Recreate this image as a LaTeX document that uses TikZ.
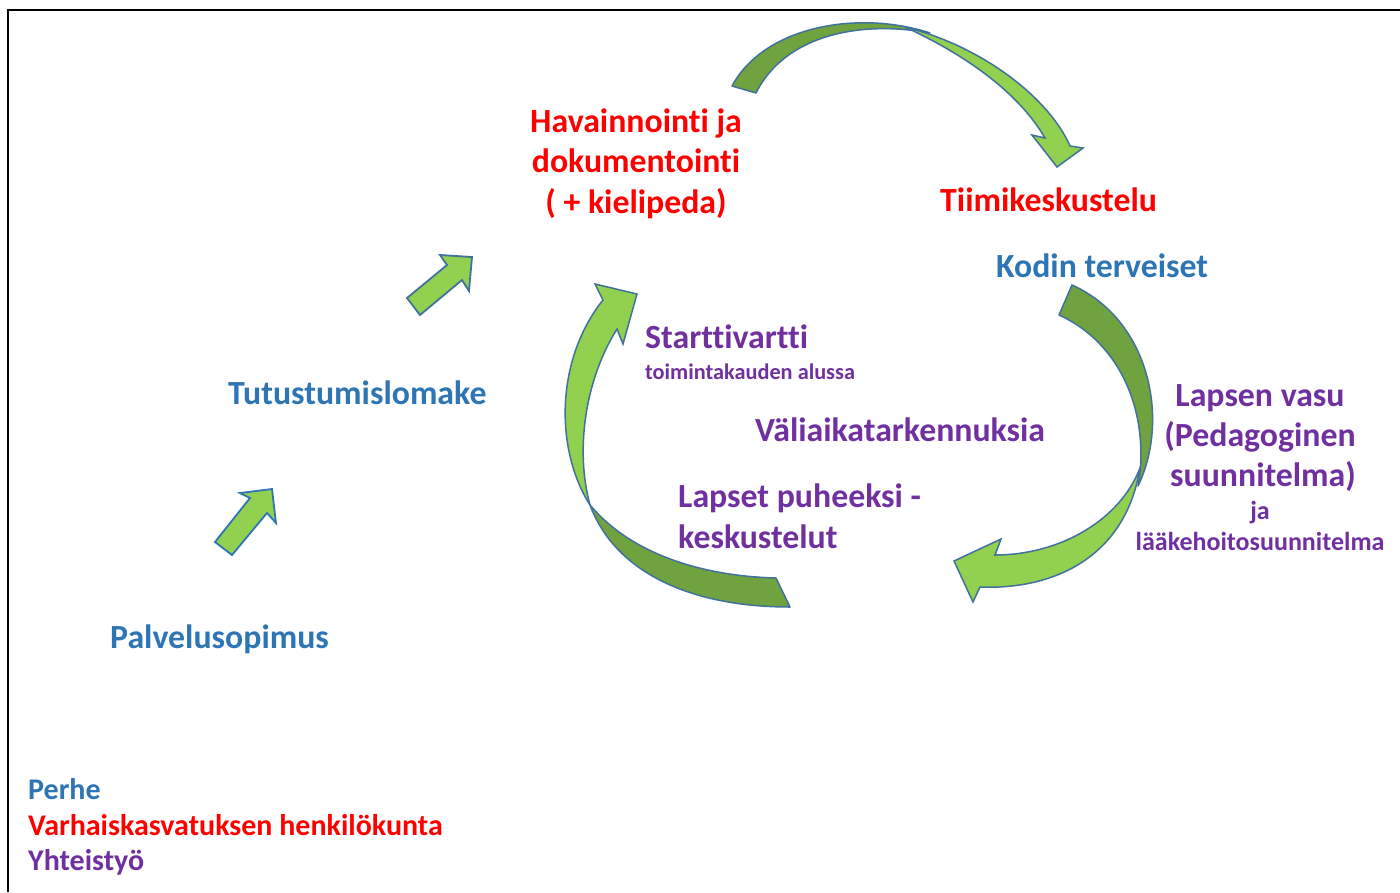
\documentclass[tikz,border=0pt]{standalone}
\usepackage{fontspec}
\setmainfont{Carlito}[Ligatures=NoCommon]
\definecolor{cred}{HTML}{FF0000}
\definecolor{cblue}{HTML}{2E75B6}
\definecolor{cpurp}{HTML}{7030A0}
\definecolor{gdark}{HTML}{70A33F}
\definecolor{glight}{HTML}{92D050}
\definecolor{gline}{HTML}{41719C}
\begin{document}
\begin{tikzpicture}[x=1pt,y=-1pt,
  big/.style={font=\bfseries\fontsize{33.8}{40}\selectfont, inner sep=0pt},
  mid/.style={font=\bfseries\fontsize{30}{35}\selectfont, inner sep=0pt},
  small/.style={font=\bfseries\fontsize{26}{30}\selectfont, inner sep=0pt},
  tiny/.style={font=\bfseries\fontsize{22.3}{26}\selectfont, inner sep=0pt},
  back/.style={fill=gdark, draw=gline, line width=1.5pt, line join=round},
  front/.style={fill=glight, draw=gline, line width=1.5pt, line join=miter},
  blockarrow/.style={fill=glight, line width=1.8pt, line join=miter}]
\useasboundingbox (0,0) rectangle (1400,892);
\fill[white] (0,0) rectangle (1400,892);
\draw[line width=2.5pt] (8,892) -- (8,10) -- (1400,10);

% top curved arrow
\draw[back] (732,86) .. controls (765,25) and (860,10) .. (930,33)
  .. controls (860,20) and (785,35) .. (756,93) -- cycle;
\draw[front] (905,27) .. controls (985,47) and (1050,100) .. (1070,146)
  -- (1083,148) -- (1057,167) -- (1032,135) -- (1045,138)
  .. controls (1020,95) and (970,57) .. (905,27) -- cycle;

% right curved arrow
\draw[back] (1072,285) .. controls (1150,320) and (1170,420) .. (1138,486)
  .. controls (1150,420) and (1125,345) .. (1059,315) -- cycle;
\draw[front] (1140,468) .. controls (1125,560) and (1050,590) .. (980,587)
  -- (973,602) -- (954,561) -- (1001,539) -- (995,555)
  .. controls (1060,555) and (1120,520) .. (1140,468) -- cycle;

% left curved arrow
\draw[back] (590,505) .. controls (615,572) and (690,607) .. (790,607)
  -- (776,578) .. controls (700,576) and (630,553) .. (590,505) -- cycle;
\draw[front] (590,505) .. controls (555,450) and (555,360) .. (603,300)
  -- (595,284) -- (637,294) -- (623,344) -- (617,329)
  .. controls (585,380) and (575,450) .. (590,505) -- cycle;

% straight block arrows
\draw[blockarrow, draw=gline] (407,298) -- (447,265) -- (440,255) -- (472,257)
  -- (469,291) -- (462,280) -- (420,315) -- cycle;
\draw[blockarrow, draw=cblue] (215,542) -- (250,498) -- (240,493) -- (272,489)
  -- (276,523) -- (267,513) -- (232,555) -- cycle;

% texts
\node[big, text=cred, anchor=base] (hav1) at (636,132) {Havainnointi ja};
\node[big, text=cred, anchor=base] (hav2) at (636,172) {dokumentointi};
\node[big, text=cred, anchor=base] (hav3) at (636,213) {( + kielipeda)};
\node[big, text=cred, anchor=base west] (tiimi) at (940,211) {Tiimikeskustelu};
\node[big, text=cblue, anchor=base west] (kodin) at (996,277) {Kodin terveiset};
\node[big, text=cpurp, anchor=base west] (startti) at (645,348) {Starttivartti};
\node[tiny, text=cpurp, anchor=base west] (toim) at (645,379) {toimintakauden alussa};
\node[big, text=cblue, anchor=base west] (tutus) at (228,404) {Tutustumislomake};
\node[big, text=cpurp, anchor=base west] (vali) at (755,441) {Väliaikatarkennuksia};
\node[big, text=cpurp, anchor=base] (vasu1) at (1260,406) {Lapsen vasu};
\node[big, text=cpurp, anchor=base] (vasu2) at (1260,446) {(Pedagoginen};
\node[big, text=cpurp, anchor=base] (vasu3) at (1263,486) {suunnitelma)};
\node[small, text=cpurp, anchor=base] (ja) at (1260,519) {ja};
\node[small, text=cpurp, anchor=base] (laake) at (1260,550) {lääkehoitosuunnitelma};
\node[big, text=cpurp, anchor=base west] (lapset1) at (678,507) {Lapset puheeksi -};
\node[big, text=cpurp, anchor=base west] (lapset2) at (678,548) {keskustelut};
\node[big, text=cblue, anchor=base west] (palvelu) at (110,648) {Palvelusopimus};
\node[mid, text=cblue, anchor=base west] (perhe) at (28,799) {Perhe};
\node[mid, text=cred, anchor=base west] (varh) at (28,835) {Varhaiskasvatuksen henkilökunta};
\node[mid, text=cpurp, anchor=base west] (yht) at (28,870) {Yhteistyö};
\end{tikzpicture}
\end{document}
